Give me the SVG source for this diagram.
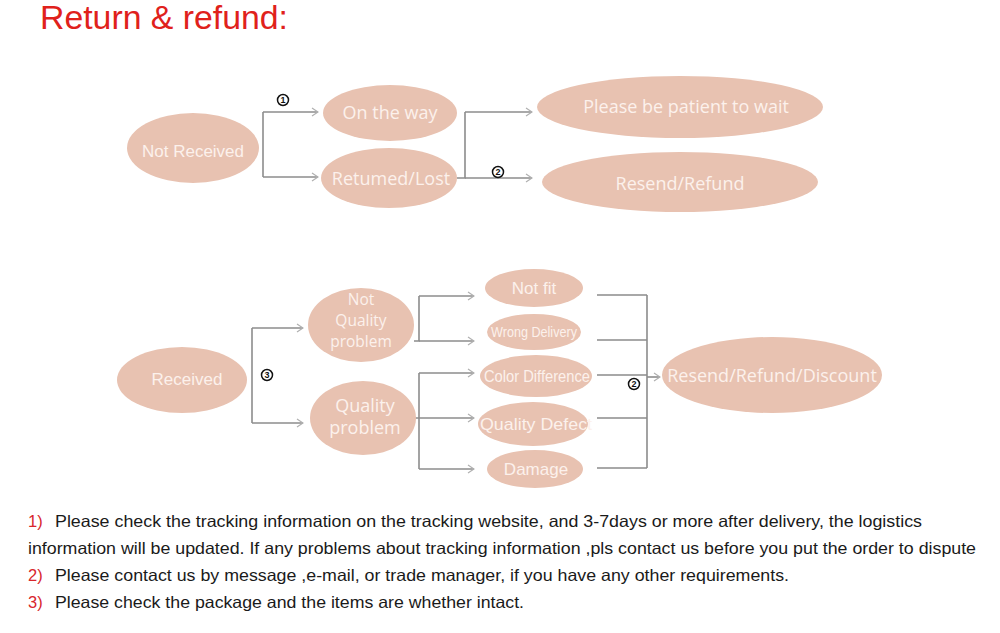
<svg xmlns="http://www.w3.org/2000/svg" width="1000" height="633" viewBox="0 0 1000 633">
<defs>
<marker id="arr" markerWidth="8" markerHeight="10" refX="7" refY="5" orient="auto" markerUnits="userSpaceOnUse">
<path d="M1,1 L7,5 L1,9" fill="none" stroke="#b0b0b0" stroke-width="1.2"/>
</marker>
<style>
.n{fill:#e8c2b1}
.t{fill:#fcf1ec;font-family:"Open Sans","Liberation Sans",sans-serif;font-size:18px;text-anchor:middle}
.a{fill:#fcf1ec;font-family:"Liberation Sans",Arial,sans-serif;font-size:17px;text-anchor:middle}
.c{fill:none;stroke:#8c8c8c;stroke-width:1.6}
.ca{fill:none;stroke:#8c8c8c;stroke-width:1.6;marker-end:url(#arr)}
.lc{fill:#fff;stroke:#111;stroke-width:1.5}
.lb{fill:#111;font-family:"Liberation Sans",Arial,sans-serif;font-size:9px;font-weight:bold;text-anchor:middle}
.b{fill:#1a1a1a;font-family:"Liberation Sans",Arial,sans-serif;font-size:16.5px}
.r{fill:#d8262c;font-family:"Liberation Sans",Arial,sans-serif;font-size:16.5px}
</style>
</defs>
<rect width="1000" height="633" fill="#ffffff"/>
<text x="40" y="29" fill="#e0211b" font-family="Liberation Sans,Arial,sans-serif" font-size="33" textLength="248" lengthAdjust="spacingAndGlyphs">Return &amp; refund:</text>

<g id="connectors">
<path class="c" d="M263,112 V177"/>
<path class="ca" d="M263,112 H318"/>
<path class="ca" d="M263,177 H318"/>
<path class="c" d="M457,178 H465 V112"/>
<path class="ca" d="M465,112 H532"/>
<path class="ca" d="M465,178 H532"/>
<path class="c" d="M252,328 V423"/>
<path class="ca" d="M252,328 H303"/>
<path class="ca" d="M252,423 H303"/>
<path class="c" d="M414,341 H419 V296"/>
<path class="ca" d="M419,296 H474"/>
<path class="ca" d="M419,341 H474"/>
<path class="c" d="M419,373 V469"/>
<path class="ca" d="M419,373 H474"/>
<path class="ca" d="M414,418 H474"/>
<path class="ca" d="M419,469 H474"/>
<path class="c" d="M597,295 H647 M597,340 H647 M597,375 H647 M597,418 H647 M597,468 H647 M647,295 V468"/>
<path class="ca" d="M647,377 H660"/>
<circle class="lc" cx="283" cy="100" r="5.5"/><text class="lb" x="283" y="103.3">1</text>
<circle class="lc" cx="498" cy="172" r="5.5"/><text class="lb" x="498" y="175.3">2</text>
<circle class="lc" cx="267" cy="375" r="5.5"/><text class="lb" x="267" y="378.3">3</text>
<circle class="lc" cx="634" cy="384" r="5.5"/><text class="lb" x="634" y="387.3">2</text>
</g>

<g id="not-received"><ellipse class="n" cx="193" cy="148" rx="66" ry="35"/><text class="a" x="193" y="157">Not Received</text></g>
<g id="on-the-way"><ellipse class="n" cx="390" cy="113" rx="67" ry="28"/><text class="t" x="390" y="119">On the way</text></g>
<g id="returned-lost"><ellipse class="n" cx="389" cy="178" rx="68" ry="30"/><text class="t" x="391" y="185">Retumed/Lost</text></g>
<g id="patient"><ellipse class="n" cx="680" cy="107" rx="143" ry="31"/><text class="t" x="686" y="113">Please be patient to wait</text></g>
<g id="resend-refund"><ellipse class="n" cx="680" cy="182" rx="138" ry="30"/><text class="t" x="680" y="190">Resend/Refund</text></g>

<g id="received"><ellipse class="n" cx="182" cy="380" rx="65" ry="33"/><text class="a" x="187" y="385">Received</text></g>
<g id="not-quality"><ellipse class="n" cx="361" cy="325" rx="53" ry="37"/><text class="t" style="font-size:15.5px"><tspan x="361" y="305">Not</tspan><tspan x="361" y="326">Quality</tspan><tspan x="361" y="347">problem</tspan></text></g>
<g id="quality"><ellipse class="n" cx="363" cy="418" rx="53" ry="37"/><text class="t"><tspan x="365" y="412">Quality</tspan><tspan x="365" y="434">problem</tspan></text></g>

<g id="not-fit"><ellipse class="n" cx="534" cy="288" rx="49" ry="19"/><text class="a" x="534" y="294">Not fit</text></g>
<g id="wrong-delivery"><ellipse class="n" cx="534" cy="332" rx="47" ry="18"/><text class="a" x="534" y="337" style="font-size:15px" textLength="86" lengthAdjust="spacingAndGlyphs">Wrong Delivery</text></g>
<g id="color-difference"><ellipse class="n" cx="536" cy="376" rx="56" ry="21"/><text class="a" x="537" y="382" style="font-size:16px" textLength="106" lengthAdjust="spacingAndGlyphs">Color Difference</text></g>
<g id="quality-defect"><ellipse class="n" cx="533" cy="424" rx="55" ry="22"/><text class="a" x="536" y="430" textLength="112" lengthAdjust="spacingAndGlyphs">Quality Defect</text></g>
<g id="damage"><ellipse class="n" cx="535" cy="469" rx="48" ry="19"/><text class="a" x="536" y="475">Damage</text></g>

<g id="resend-refund-discount"><ellipse class="n" cx="772" cy="375" rx="110" ry="38"/><text class="t" x="772" y="382">Resend/Refund/Discount</text></g>

<text class="r" x="28" y="527">1)</text>
<text class="b" x="55" y="527" textLength="867" lengthAdjust="spacingAndGlyphs">Please check the tracking information on the tracking website, and 3-7days or more after delivery, the logistics</text>
<text class="b" x="28" y="554" textLength="948" lengthAdjust="spacingAndGlyphs">information will be updated. If any problems about tracking information ,pls contact us before you put the order to dispute</text>
<text class="r" x="28" y="581">2)</text>
<text class="b" x="55" y="581" textLength="734" lengthAdjust="spacingAndGlyphs">Please contact us by message ,e-mail, or trade manager, if you have any other requirements.</text>
<text class="r" x="28" y="608">3)</text>
<text class="b" x="55" y="608" textLength="469" lengthAdjust="spacingAndGlyphs">Please check the package and the items are whether intact.</text>
</svg>
